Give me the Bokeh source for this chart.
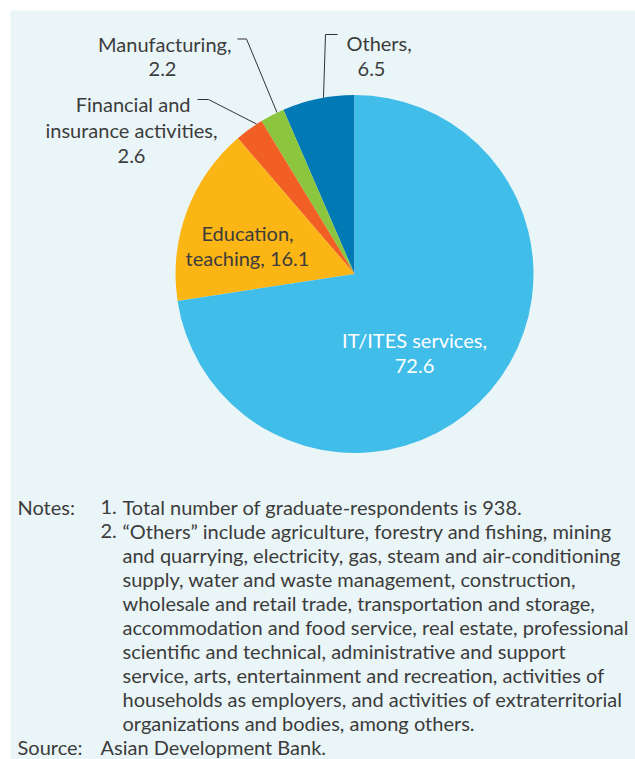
import math
from bokeh.plotting import figure
from bokeh.models import Range1d
from bokeh.core.properties import value
from bokeh.embed import file_html
from bokeh.resources import INLINE

# ---- data ----
categories = ["Others", "Manufacturing", "Financial and insurance activities",
              "Education, teaching", "IT/ITES services"]
shares = [6.5, 2.2, 2.6, 16.1, 72.6]
colors = ["#0079B5", "#8CC63F", "#F15F24", "#FBB515", "#41BDE9"]

note_numbers = ["1.", "2."]
notes_lines = [
    "Total number of graduate-respondents is 938.",
    "\u201cOthers\u201d include agriculture, forestry and fishing, mining",
    "and quarrying, electricity, gas, steam and air-conditioning",
    "supply, water and waste management, construction,",
    "wholesale and retail trade, transportation and storage,",
    "accommodation and food service, real estate, professional",
    "scientific and technical, administrative and support",
    "service, arts, entertainment and recreation, activities of",
    "households as employers, and activities of extraterritorial",
    "organizations and bodies, among others.",
]
source_text = "Asian Development Bank."

W, H = 635, 759
BG = "#EAF5F8"
TXT = "#3C3C3C"
FONT = "Lato"

def X(px):
    return px

def Y(py):
    return H - py

p = figure(width=W, height=H, output_backend="svg", toolbar_location=None,
           x_range=Range1d(0, W), y_range=Range1d(0, H), min_border=0)
p.axis.visible = False
p.grid.visible = False
p.outline_line_color = None
p.background_fill_color = "white"
p.border_fill_color = "white"

# panel background
p.quad(left=[X(10)], right=[X(W)], top=[Y(10)], bottom=[Y(H)],
       fill_color=BG, line_color=None)

cx, cy, R = X(354), Y(273.5), 179
total = sum(shares)
starts, ends, mids = [], [], []
a = math.pi / 2
for s in shares:
    da = s / total * 2 * math.pi
    starts.append(a)
    ends.append(a + da)
    mids.append(a + da / 2)
    a += da

p.wedge(x=[cx] * len(shares), y=[cy] * len(shares), radius=R,
        start_angle=starts, end_angle=ends, direction="anticlock",
        fill_color=colors, line_color=None)

# leader lines (outside labels)
def edge(i, off=0.0):
    t = mids[i] - off
    return cx + R * math.cos(t), cy + R * math.sin(t)

ex, ey = edge(0, 0.03)
p.line([X(337), X(325), ex], [Y(34), Y(34), ey], line_color="#333333", line_width=1)
ex, ey = edge(1, 0.03)
p.line([X(237), X(246), ex], [Y(38.5), Y(38.5), ey], line_color="#333333", line_width=1)
ex, ey = edge(2, 0.05)
p.line([X(197), X(208), ex], [Y(99), Y(99), ey], line_color="#333333", line_width=1)

FS = "20px"
def txt(x, y, t, align, color=TXT, fs=FS):
    p.text(x=[X(x)], y=[Y(y)], text=[t], text_align=align, text_baseline="alphabetic",
           text_font=value(FONT), text_font_size=fs, text_color=color)

# outside labels (y = baseline)
txt(346, 42, "Others,", "left")
txt(371, 68, f"{shares[0]}", "center")
txt(231, 43, "Manufacturing,", "right")
txt(162, 68, f"{shares[1]}", "center")
txt(190, 103.5, "Financial and", "right")
txt(131, 129.5, "insurance activities,", "center")
txt(131, 155, f"{shares[2]}", "center")

# inside labels
txt(247, 232, "Education,", "center")
txt(247, 257.5, f"teaching, {shares[3]}", "center")
txt(414, 339.5, "IT/ITES services,", "center", color="white")
txt(414, 365.5, f"{shares[4]}", "center", color="white")

# notes
NFS = "20px"
LS = 24
txt(17, 506, "Notes:", "left", fs=NFS)
for i, n in enumerate(note_numbers):
    txt(100, 506 + LS * i, n, "left", fs=NFS)
for i, line in enumerate(notes_lines):
    txt(122, 506 + LS * i, line, "left", fs=NFS)
txt(17, 506 + LS * len(notes_lines), "Source:", "left", fs=NFS)
txt(100, 506 + LS * len(notes_lines), source_text, "left", fs=NFS)

open("out.html", "w").write(file_html(p, INLINE))
